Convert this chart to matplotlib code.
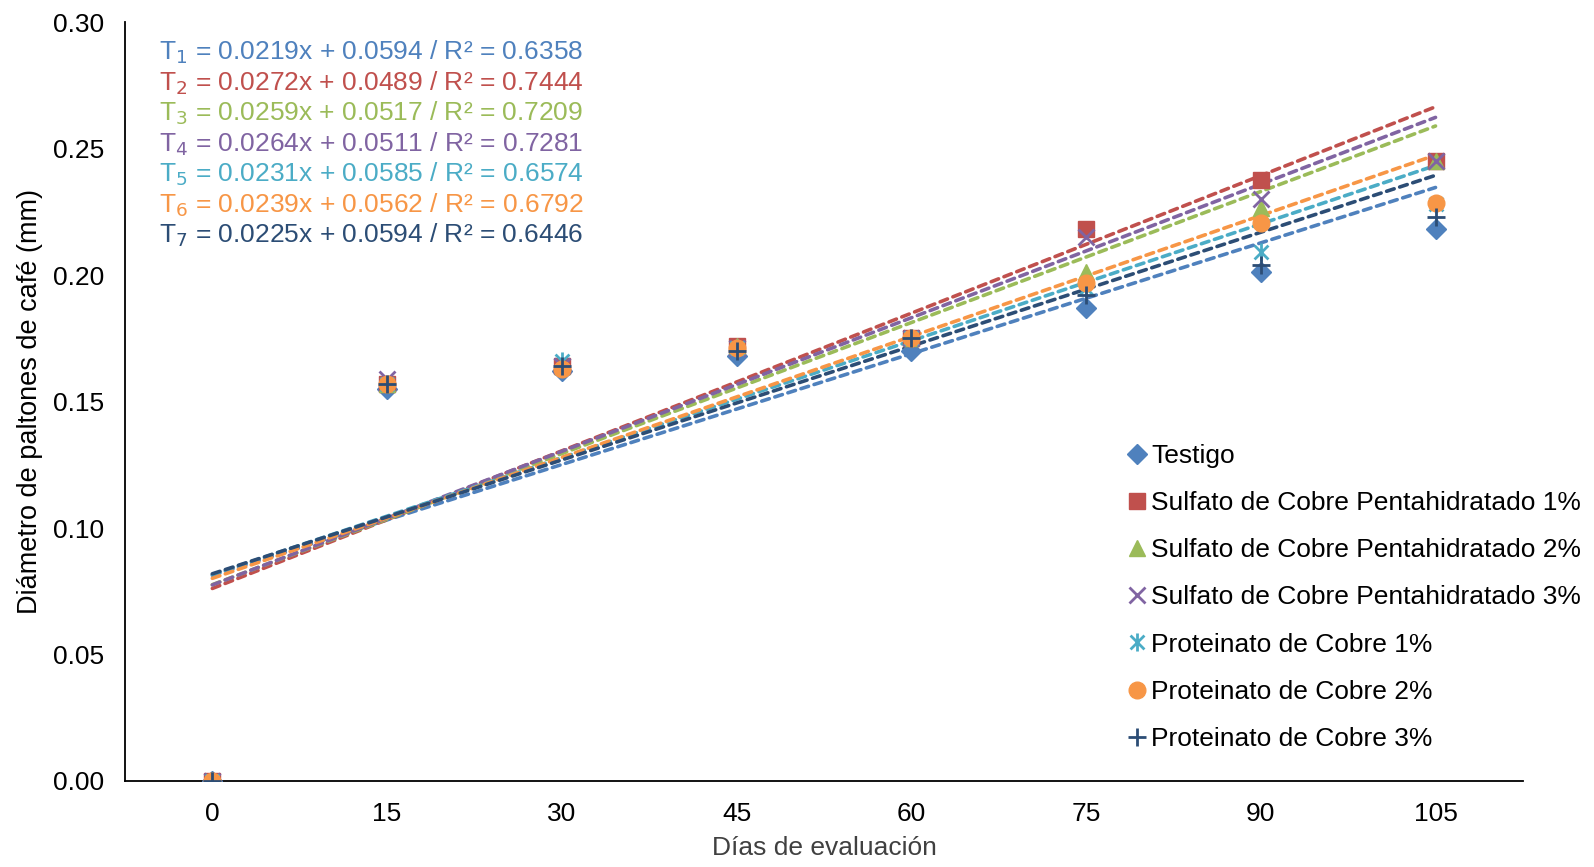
import numpy as np
import matplotlib
matplotlib.use("Agg")
import matplotlib.pyplot as plt
from matplotlib.path import Path

plt.rcParams['font.family'] = ['Liberation Sans', 'DejaVu Sans']

# datos
dias = [0, 15, 30, 45, 60, 75, 90, 105]
series = [
    "Testigo",
    "Sulfato de Cobre Pentahidratado 1%",
    "Sulfato de Cobre Pentahidratado 2%",
    "Sulfato de Cobre Pentahidratado 3%",
    "Proteinato de Cobre 1%",
    "Proteinato de Cobre 2%",
    "Proteinato de Cobre 3%",
]
testigo = [0.0, 0.155, 0.162, 0.168, 0.170, 0.187, 0.201, 0.218]
sulfato1 = [0.0, 0.157, 0.164, 0.172, 0.175, 0.218, 0.2375, 0.245]
sulfato2 = [0.0, 0.157, 0.164, 0.172, 0.175, 0.201, 0.2265, 0.245]
sulfato3 = [0.0, 0.159, 0.164, 0.171, 0.175, 0.215, 0.230, 0.245]
proteinato1 = [0.0, 0.157, 0.166, 0.171, 0.175, 0.195, 0.209, 0.228]
proteinato2 = [0.0, 0.157, 0.163, 0.171, 0.175, 0.197, 0.2205, 0.2285]
proteinato3 = [0.0, 0.157, 0.164, 0.170, 0.175, 0.192, 0.204, 0.223]
valores = [testigo, sulfato1, sulfato2, sulfato3, proteinato1, proteinato2, proteinato3]

# lineas de tendencia (x = 1..8) tal como aparecen en el grafico
pendientes = [0.0219, 0.0272, 0.0259, 0.0264, 0.0231, 0.0239, 0.0225]
interceptos = [0.0594, 0.0489, 0.0517, 0.0511, 0.0585, 0.0562, 0.0594]
r2 = [0.6358, 0.7444, 0.7209, 0.7281, 0.6574, 0.6792, 0.6446]

colores = ['#4F81BD', '#C0504D', '#9BBB59', '#8064A2', '#4BACC6', '#F79646', '#2C4D75']

# asterisco estilo Excel: x + linea vertical
asterisco = Path([(-1, -1), (1, 1), (-1, 1), (1, -1), (0, -1.3), (0, 1.3)],
                 [Path.MOVETO, Path.LINETO, Path.MOVETO, Path.LINETO, Path.MOVETO, Path.LINETO])
marcadores = [
    dict(marker='D', ms=10),
    dict(marker='s', ms=11),
    dict(marker='^', ms=12),
    dict(marker='x', ms=11, mew=2),
    dict(marker=asterisco, ms=13, mew=2),
    dict(marker='o', ms=12),
    dict(marker='+', ms=13, mew=2),
]

fig = plt.figure(figsize=(15.94, 8.67), dpi=100)
ax = fig.add_axes([0.0784, 0.0992, 0.877, 0.8754])

x = np.arange(len(dias))
for i in range(len(series)):
    ax.plot(x, valores[i], linestyle='none', color=colores[i], label=series[i],
            zorder=3 + i, **marcadores[i])

xt = np.array([0, len(dias) - 1])
for i in range(len(series)):
    ax.plot(xt, pendientes[i] * (xt + 1) + interceptos[i], color=colores[i],
            lw=2.6, linestyle=(0, (2.2, 1.6)), dash_capstyle='round', zorder=2)

for i in range(len(series)):
    ax.text(0.0245, 0.960 - i * 0.0402,
            f"T$_{{{i + 1}}}$ = {pendientes[i]:.4f}x + {interceptos[i]:.4f} / R² = {r2[i]:.4f}",
            transform=ax.transAxes, color=colores[i], fontsize=19, va='center', ha='left')

ax.set_xlim(-0.5, len(dias) - 0.5)
ax.set_ylim(0, 0.30)
ax.set_xticks(x)
ax.set_xticklabels([str(d) for d in dias])
ax.set_yticks(np.arange(0, 0.301, 0.05))
ax.set_yticklabels([f"{v:.2f}" for v in np.arange(0, 0.301, 0.05)])
ax.tick_params(labelsize=19, length=0)
ax.tick_params(axis='y', pad=15)
ax.tick_params(axis='x', pad=15)
for s in ['top', 'right']:
    ax.spines[s].set_visible(False)
for s in ['left', 'bottom']:
    ax.spines[s].set_linewidth(1.3)
    ax.spines[s].set_color('black')

ax.set_xlabel("Días de evaluación", fontsize=19, color='#404040', labelpad=7)
ax.set_ylabel("Diámetro de paltones de café (mm)", fontsize=19.5, labelpad=7)

leg = ax.legend(loc='lower left', bbox_to_anchor=(0.705, 0.015), frameon=False, fontsize=19,
                handlelength=0.6, handletextpad=0.25, labelspacing=0.88, borderaxespad=0.3)

fig.savefig("out.png", dpi=100)
